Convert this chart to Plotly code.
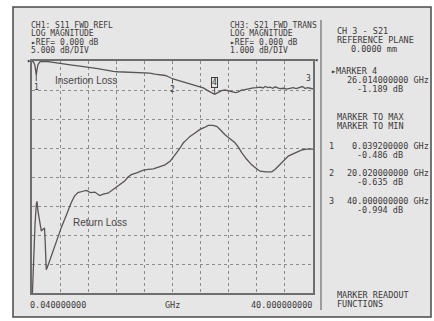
import plotly.graph_objects as go

W, H = 434, 321
MONO = "DejaVu Sans Mono"
INK = "#3d3a3a"
TRACE = "#5a5454"
PANEL = "#e6e6e6"

# CH3: S21 insertion loss (dB), 1 dB/div, ref 0 dB at top
il_freq = [0.04, 0.25, 0.45, 0.55, 0.65, 0.75, 0.9, 1.15, 1.6, 2.3, 3.0, 3.7, 4.5, 5.2,
           6.0, 6.6, 7.3, 8.0, 8.8, 9.4, 10.2, 11.0, 11.6, 12.2, 13.3, 14.2, 15.0, 16.1,
           16.8, 17.5, 18.2, 19.0, 19.6, 20.1, 20.8, 21.8, 22.7, 23.6, 24.4, 25.1, 25.6,
           26.0, 26.4, 27.0, 27.5, 27.9, 28.3, 28.6, 29.0, 29.3, 29.6, 29.9, 30.3, 30.6,
           31.0, 31.5, 32.0, 32.5, 32.9, 33.2, 33.6, 33.9, 34.3, 34.6, 35.0, 35.3, 35.8,
           36.3, 36.7, 37.2, 37.6, 38.2, 38.5, 38.9, 39.2, 39.6, 40.0]
il_db = [-0.02, -0.03, -0.15, -0.35, -0.49, -0.30, -0.12, -0.03, -0.01, -0.02, -0.04,
         -0.06, -0.09, -0.12, -0.15, -0.17, -0.19, -0.22, -0.24, -0.26, -0.30, -0.34,
         -0.36, -0.37, -0.38, -0.38, -0.39, -0.40, -0.42, -0.45, -0.47, -0.50, -0.56,
         -0.62, -0.67, -0.74, -0.80, -0.86, -0.93, -1.03, -1.09, -1.15, -1.10, -1.02,
         -1.00, -1.03, -1.04, -1.06, -1.09, -1.07, -1.02, -1.00, -0.99, -0.97, -0.95,
         -0.93, -0.92, -0.90, -0.93, -0.88, -0.92, -0.90, -0.94, -0.89, -0.93, -0.95,
         -0.94, -0.97, -0.94, -0.92, -0.95, -0.91, -0.88, -0.95, -0.92, -0.94, -0.96]

# CH1: S11 return loss (dB), 5 dB/div, ref 0 dB at top
rl_freq = [0.04, 0.25, 0.47, 0.65, 0.75, 0.89, 1.14, 1.36, 1.6, 1.82, 1.93, 2.07, 2.39,
           2.78, 3.31, 3.74, 4.24, 4.69, 5.16, 5.63, 6.08, 6.58, 7.15, 7.76, 8.36, 8.96,
           9.67, 10.28, 10.85, 11.42, 12.03, 12.63, 13.22, 13.69, 14.16, 14.93, 15.87,
           16.54, 17.29, 18.24, 18.95, 19.67, 20.16, 20.62, 21.09, 21.56, 22.01, 22.51,
           23.22, 23.93, 24.5, 25.11, 25.82, 26.35, 26.78, 27.49, 28.2, 28.91, 29.41,
           29.86, 30.54, 31.28, 31.9, 32.46, 33.32, 34.13, 34.6, 35.07, 35.73, 36.49,
           37.16, 37.91, 38.51, 39.11, 39.57, 40.0]
rl_db = [-42.0, -34.2, -28.2, -24.7, -24.2, -25.9, -27.8, -29.3, -29.0, -28.8, -31.6,
         -36.0, -35.0, -33.6, -31.8, -30.2, -28.6, -27.3, -25.8, -24.4, -23.3, -22.7,
         -22.5, -22.3, -22.7, -22.6, -23.2, -22.9, -22.8, -22.3, -21.9, -21.3, -20.7,
         -20.0, -19.6, -19.3, -18.8, -18.7, -18.6, -18.2, -17.9, -17.3, -16.6, -15.8,
         -15.0, -14.1, -13.6, -13.0, -12.4, -11.8, -11.5, -11.1, -11.1, -11.3, -11.8,
         -12.7, -13.4, -14.1, -14.9, -15.8, -16.9, -17.9, -18.5, -19.0, -19.1, -19.1,
         -18.7, -18.1, -17.3, -16.4, -16.0, -15.6, -15.3, -15.2, -15.2, -15.2]

# markers drawn on the S21 trace
mk_names = ["1", "2", "3", "4"]
mk_freq = [0.65, 20.02, 40.0, 26.014]
mk_db = [-0.486, -0.635, -0.994, -1.15]

header_left = ["CH1: S11 FWD REFL", "LOG MAGNITUDE", "▸REF= 0.000 dB", "5.000 dB/DIV"]
header_right = ["CH3: S21 FWD TRANS", "LOG MAGNITUDE", "▸REF= 0.000 dB", "1.000 dB/DIV"]

fig = go.Figure()
fig.add_trace(go.Scatter(x=rl_freq, y=rl_db, mode="lines", yaxis="y",
                         line=dict(color=TRACE, width=1.3), hoverinfo="skip"))
fig.add_trace(go.Scatter(x=il_freq, y=il_db, mode="lines", yaxis="y2",
                         line=dict(color=TRACE, width=1.3), hoverinfo="skip"))


def px_text(text, x, y, size=8, anchor="left", font=MONO, color=INK):
    fig.add_annotation(text=text, x=x / W, y=1 - y / H, xref="paper", yref="paper",
                       xanchor=anchor, yanchor="middle", showarrow=False, borderpad=0,
                       font=dict(family=font, size=size, color=color))


for i, s in enumerate(header_left):
    px_text(s, 30, 25 + i * 8.6)
for i, s in enumerate(header_right):
    px_text(s, 229, 25 + i * 8.6)

# right hand readout panel
px_text("CH 3 - S21", 336, 31.5, 8.5)
px_text("REFERENCE PLANE", 336, 40.3, 8.5)
px_text("0.0000 mm", 350, 49, 8.5)
px_text("▸MARKER 4", 330, 71, 8.5)
px_text("26.014000000 GHz", 430, 80, 8.5, "right")
px_text("-1.189 dB", 404, 88.8, 8.5, "right")
px_text("MARKER TO MAX", 336, 117, 8.5)
px_text("MARKER TO MIN", 336, 125.8, 8.5)
px_text("1", 328, 146, 8.5)
px_text("0.039200000 GHz", 430, 146, 8.5, "right")
px_text("-0.486 dB", 404, 154.8, 8.5, "right")
px_text("2", 328, 173, 8.5)
px_text("20.020000000 GHz", 430, 173, 8.5, "right")
px_text("-0.635 dB", 404, 181.8, 8.5, "right")
px_text("3", 328, 201.2, 8.5)
px_text("40.000000000 GHz", 430, 201.2, 8.5, "right")
px_text("-0.994 dB", 404, 210.3, 8.5, "right")
px_text("MARKER READOUT", 336, 295, 8.5)
px_text("FUNCTIONS", 336, 304, 8.5)

# frequency axis labels
px_text("0.040000000", 29, 305, 8.5)
px_text("GHz", 172, 305, 8.5, "center")
px_text("40.000000000", 313, 305, 8.5, "right")

# reference level pointers
px_text("▸", 29, 61, 7, "center")
px_text("◂", 316, 60, 7, "center")

# trace labels
px_text("Insertion Loss", 54, 80, 10, font="Liberation Sans", color="#4a4545")
px_text("Return Loss", 72, 222, 10, font="Liberation Sans", color="#4a4545")

# marker flags
fig.add_annotation(x=mk_freq[0], y=mk_db[0], yref="y2", text=mk_names[0], showarrow=True,
                   arrowhead=0, arrowwidth=1, arrowcolor=TRACE, ax=0, ay=12,
                   font=dict(family=MONO, size=8, color=INK))
fig.add_annotation(x=mk_freq[1], y=mk_db[1], yref="y2", text=mk_names[1], showarrow=True,
                   arrowhead=0, arrowwidth=1, arrowcolor=TRACE, ax=0, ay=10,
                   font=dict(family=MONO, size=8, color=INK))
fig.add_annotation(x=mk_freq[2], y=mk_db[2], yref="y2", text=mk_names[2], showarrow=False,
                   xanchor="right", yshift=11, font=dict(family=MONO, size=8, color=INK))
fig.add_annotation(x=mk_freq[3], y=mk_db[3], yref="y2", text=mk_names[3], showarrow=True,
                   arrowhead=0, arrowwidth=1, arrowcolor=TRACE, ax=0, ay=-12,
                   bordercolor=INK, borderwidth=1, borderpad=0, bgcolor=PANEL,
                   font=dict(family=MONO, size=8, color=INK))

# instrument frame and panel separator
fig.add_shape(type="rect", xref="paper", yref="paper", x0=13 / W, x1=431 / W,
              y0=1 - 317 / H, y1=1 - 7 / H, line=dict(color="#4a4a4a", width=1.5),
              fillcolor=PANEL, layer="below")
fig.add_shape(type="line", xref="paper", yref="paper", x0=321 / W, x1=321 / W,
              y0=1 - 310 / H, y1=1 - 20 / H, line=dict(color="#6a6a6a", width=1.2))

fig.update_layout(
    width=W, height=H, autosize=False,
    margin=dict(l=0, r=0, t=0, b=0),
    paper_bgcolor="white", plot_bgcolor=PANEL,
    showlegend=False,
    xaxis=dict(domain=[32 / W, 313 / W], range=[0.04, 40], tick0=0.04, dtick=3.996,
               showticklabels=False, ticks="", showgrid=True, griddash="dot",
               gridcolor="#8c8c8c", gridwidth=1, zeroline=False,
               showline=True, mirror=True, linecolor="#6e6e6e", linewidth=1.5),
    yaxis=dict(domain=[1 - 293 / H, 1 - 61 / H], range=[-40, 0], dtick=5,
               showticklabels=False, ticks="", showgrid=True, griddash="dot",
               gridcolor="#8c8c8c", gridwidth=1, zeroline=False,
               showline=True, mirror=True, linecolor="#6e6e6e", linewidth=1.5),
    yaxis2=dict(overlaying="y", range=[-8, 0], showgrid=False, showticklabels=False,
                ticks="", zeroline=False),
)

# page has a default body margin; drop it so the figure sits at 0,0
fig.write_html("out.html", config={"displayModeBar": False},
               post_script="document.body.style.margin='0';")
